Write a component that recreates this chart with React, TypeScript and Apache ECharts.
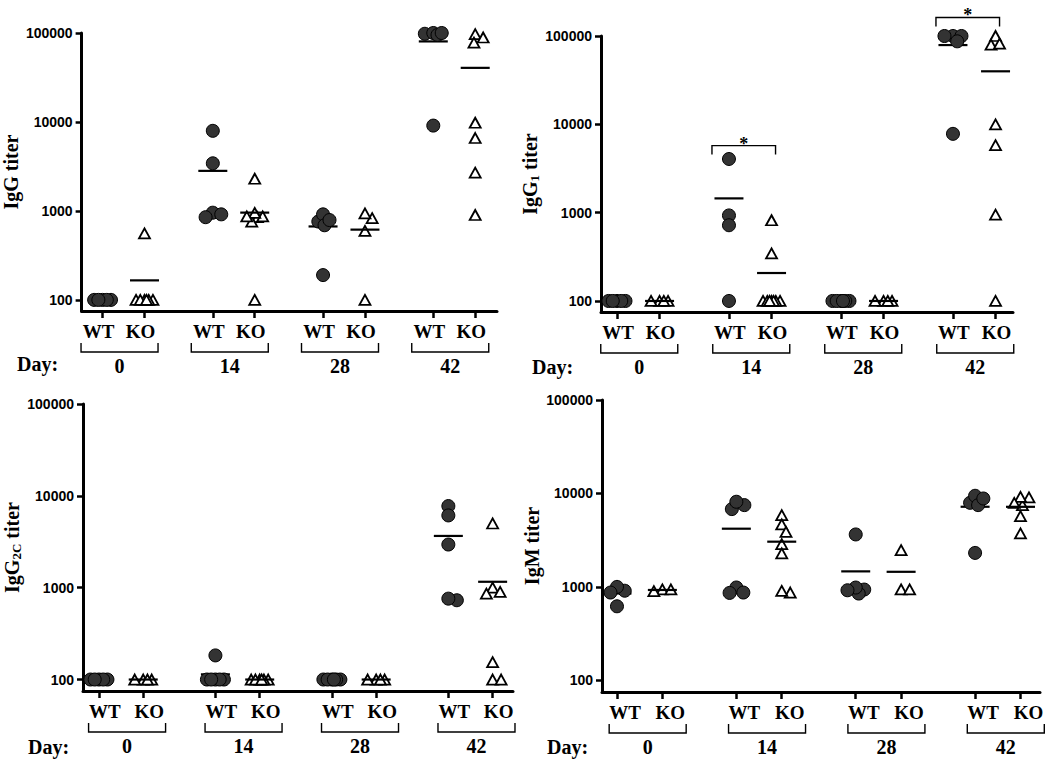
import React, { useEffect, useRef } from "react";
import * as echarts from "echarts";

// ---------- data ----------
const days = ["0", "14", "28", "42"];
const groupLabels = ["WT", "KO"];
const yTicks = [100, 1000, 10000, 100000];

// IgG
const iggWT = [
  [100, 100, 100, 100, 100],
  [7950, 3430, 955, 850, 915],
  [760, 915, 690, 790, 190],
  [98000, 100000, 95000, 100000, 9100],
];
const iggKO = [
  [560, 100, 100, 100, 100, 100, 100],
  [2300, 850, 870, 760, 950, 870, 100],
  [830, 940, 595, 100],
  [97000, 89000, 78000, 9800, 6600, 2700, 900],
];

// IgG1
const igg1WT = [
  [100, 100, 100, 100, 100],
  [4050, 930, 720, 100],
  [100, 100, 100, 100, 100, 100],
  [100000, 100000, 87000, 100000, 7800],
];
const igg1KO = [
  [100, 100, 100, 100],
  [820, 345, 100, 100, 100, 100, 100, 100, 100],
  [100, 100, 100, 100],
  [100000, 80000, 82000, 10000, 5800, 950, 100],
];

// IgG2C
const igg2cWT = [
  [100, 100, 100, 100, 100],
  [183, 100, 100, 100, 100, 100],
  [100, 100, 100, 100, 100, 100],
  [7740, 6120, 2950, 730, 760],
];
const igg2cKO = [
  [100, 100, 100, 100],
  [100, 100, 100, 100, 100, 100],
  [100, 100, 100, 100],
  [5000, 1000, 863, 900, 155, 100, 100],
];

// IgM
const igmWT = [
  [910, 1000, 870, 620],
  [7500, 6800, 8150, 985, 862, 870],
  [3640, 936, 848, 984, 920],
  [7940, 9440, 7500, 8830, 2310],
];
const igmKO = [
  [940, 900, 940],
  [2870, 5860, 4660, 3880, 2280, 870, 906],
  [2470, 940, 940],
  [7500, 9060, 9200, 7940, 5720, 3730],
];

// significance brackets (IgG1 panel): day index, bracket height (titer)
const sigDays = [1, 3];
const sigLevels = [5740, 162000];
const sigMarks = ["*", "*"];

const panelNames = ["IgG{s|} titer", "IgG{s|1} titer", "IgG{s|2C} titer", "IgM titer"];
const panelWT = [iggWT, igg1WT, igg2cWT, igmWT];
const panelKO = [iggKO, igg1KO, igg2cKO, igmKO];

// ---------- layout ----------
const G = 2.63;
const Y_MIN = 75;
const Y_MAX = 100000;
const SERIF = '"Liberation Serif", "Times New Roman", serif';
const SANS = '"Liberation Sans", Arial, sans-serif';

const layout = [
  { left: 79, top: 33, width: 418, height: 278, xMin: -0.5, xMax: 9.41, shift: -4, dayX: 17, dayY: 364, gap: 52 },
  { left: 601, top: 36, width: 412, height: 276, xMin: -0.375, xMax: 9.3, shift: 1, dayX: 532, dayY: 367, gap: 52 },
  { left: 83, top: 404, width: 430, height: 287, xMin: -0.36, xMax: 9.35, shift: 6, dayX: 28, dayY: 747, gap: 53 },
  { left: 602, top: 400, width: 438, height: 292, xMin: -0.33, xMax: 9.32, shift: 8, dayX: 547, dayY: 747, gap: 50 },
];

const posOf = (d: number, k: number) => d * G + k;
const tickPositions: number[] = [];
const tickNames: string[] = [];
days.forEach((_, d) => groupLabels.forEach((g, k) => { tickPositions.push(posOf(d, k)); tickNames.push(g); }));

function swarm(values: number[], pxPerDec: number): number[] {
  const idx = values.map((_, i) => i).sort((a, b) => values[b] - values[a]);
  const placed: { x: number; y: number }[] = [];
  const out = new Array(values.length).fill(0);
  const D = 8.5, W = 10, step = 0.25;
  const cands: number[] = [0];
  for (let k = step; k <= W + 1e-9; k += step) cands.push(k, -k);
  for (const i of idx) {
    const y = Math.log10(values[i]) * pxPerDec;
    let best = 0, bestD = -1;
    for (const c of cands) {
      let m = Infinity;
      for (const p of placed) { const dd = Math.hypot(p.x - c, p.y - y); if (dd < m) m = dd; }
      if (m >= D) { best = c; break; }
      if (m > bestD + 1e-9) { bestD = m; best = c; }
    }
    placed.push({ x: best, y });
    out[i] = best;
  }
  return out;
}

const mean = (a: number[]) => a.reduce((s, v) => s + v, 0) / a.length;

function buildOption() {
  const grid: any[] = [], xAxis: any[] = [], yAxis: any[] = [], series: any[] = [], graphic: any[] = [];
  layout.forEach((L, p) => {
    grid.push({ left: L.left, top: L.top, width: L.width, height: L.height });
    const pxPerDec = L.height / (Math.log10(Y_MAX) - Math.log10(Y_MIN));
    const pxPerUnit = L.width / (L.xMax - L.xMin);
    const s = L.shift;
    xAxis.push({
      type: "value", gridIndex: p, min: L.xMin, max: L.xMax,
      splitLine: { show: false },
      axisLine: { onZero: false, lineStyle: { color: "#000", width: 3 } },
      axisTick: { customValues: tickPositions, length: 7, lineStyle: { color: "#000", width: 2.5 } },
      axisLabel: {
        customValues: tickPositions, margin: 11, color: "#000",
        fontFamily: SERIF, fontWeight: "bold", fontSize: 19,
        padding: s >= 0 ? [0, 0, 0, 2 * s] : [0, -2 * s, 0, 0],
        formatter: (v: number) => {
          let bi = 0;
          tickPositions.forEach((t, i) => { if (Math.abs(t - v) < Math.abs(tickPositions[bi] - v)) bi = i; });
          return tickNames[bi];
        },
      },
    });
    const rich = { s: { fontFamily: SERIF, fontWeight: "bold", fontSize: 13, color: "#000", verticalAlign: "top", padding: [9, 0, 0, 0] } };
    yAxis.push({
      type: "log", gridIndex: p, min: Y_MIN, max: Y_MAX, logBase: 10,
      splitLine: { show: false },
      name: panelNames[p], nameLocation: "middle", nameGap: L.gap, nameRotate: 90,
      nameTextStyle: { fontFamily: SERIF, fontWeight: "bold", fontSize: 20, color: "#000", rich },
      axisLine: { onZero: false, lineStyle: { color: "#000", width: 3 } },
      axisTick: { customValues: yTicks, length: 6, lineStyle: { color: "#000", width: 2.5 } },
      axisLabel: {
        customValues: yTicks, margin: 9, color: "#000",
        fontFamily: SANS, fontWeight: "bold", fontSize: 14,
        formatter: (v: number) => String(Math.round(v)),
      },
    });

    const wtData: number[][] = [], koData: number[][] = [], meanData: number[][] = [];
    days.forEach((_, d) => {
      const wv = panelWT[p][d], kv = panelKO[p][d];
      const wo = swarm(wv, pxPerDec), ko = swarm(kv, pxPerDec);
      wv.forEach((v, i) => wtData.push([posOf(d, 0) + wo[i] / pxPerUnit, v]));
      kv.forEach((v, i) => koData.push([posOf(d, 1) + ko[i] / pxPerUnit, v]));
      meanData.push([posOf(d, 0), mean(wv)]);
      meanData.push([posOf(d, 1), mean(kv)]);
    });
    series.push({
      type: "scatter", xAxisIndex: p, yAxisIndex: p, data: koData, symbol: "triangle", symbolSize: [11, 10],
      itemStyle: { color: "#fff", borderColor: "#000", borderWidth: 1.8, opacity: 1 }, z: 3, silent: true,
    });
    series.push({
      type: "scatter", xAxisIndex: p, yAxisIndex: p, data: meanData, symbol: "rect", symbolSize: [29, 2.2],
      itemStyle: { color: "#000", opacity: 1 }, z: 4, silent: true,
    });
    series.push({
      type: "scatter", xAxisIndex: p, yAxisIndex: p, data: wtData, symbol: "circle", symbolSize: 13,
      itemStyle: { color: "#333", borderColor: "#000", borderWidth: 1, opacity: 1 }, z: 5, silent: true,
    });
    // group brackets + day numbers
    series.push({
      type: "custom", xAxisIndex: p, yAxisIndex: p, silent: true, clip: false, z: 6,
      data: days.map((_, d) => [posOf(d, 0.5), Y_MIN]),
      renderItem: (params: any, api: any) => {
        const c = api.coord([api.value(0), Y_MIN]);
        const cx = c[0] + s, y0 = c[1];
        const hw = 38.5;
        return {
          type: "group",
          children: [
            { type: "polyline", shape: { points: [[cx - hw, y0 + 32], [cx - hw, y0 + 41], [cx + hw, y0 + 41], [cx + hw, y0 + 32]] },
              style: { stroke: "#000", lineWidth: 1.4, fill: null } },
            { type: "text", x: cx, y: y0 + 55,
              style: { text: days[params.dataIndex], font: `bold 20px ${SERIF}`, fill: "#000", align: "center", verticalAlign: "middle" } },
          ],
        };
      },
    });
    graphic.push({ type: "text", x: L.dayX, y: L.dayY, style: { text: "Day:", font: `bold 20px ${SERIF}`, fill: "#000", align: "left", verticalAlign: "middle" } });
  });

  // significance brackets on IgG1 panel
  series.push({
    type: "custom", xAxisIndex: 1, yAxisIndex: 1, silent: true, clip: false, z: 6,
    data: sigDays.map((d, i) => [posOf(d, 0), sigLevels[i]]),
    renderItem: (params: any, api: any) => {
      const a = api.coord([api.value(0), api.value(1)]);
      const b = api.coord([api.value(0) + 1, api.value(1)]);
      const x0 = a[0] - 17, x1 = b[0] + 4, y = a[1];
      return {
        type: "group",
        children: [
          { type: "polyline", shape: { points: [[x0, y + 9], [x0, y], [x1, y], [x1, y + 9]] },
            style: { stroke: "#000", lineWidth: 1.4, fill: null } },
          { type: "text", x: (x0 + x1) / 2, y: y - 2,
            style: { text: sigMarks[params.dataIndex], font: `bold 18px ${SERIF}`, fill: "#000", align: "center", verticalAlign: "middle" } },
        ],
      };
    },
  });

  return { animation: false, backgroundColor: "#fff", grid, xAxis, yAxis, series, graphic };
}

export default function App() {
  const ref = useRef<HTMLDivElement>(null);
  useEffect(() => {
    document.body.style.margin = "0";
    const chart = echarts.init(ref.current!, null, { renderer: "svg" });
    chart.setOption(buildOption() as any);
    return () => chart.dispose();
  }, []);
  return <div ref={ref} style={{ width: 1050, height: 760 }} />;
}
